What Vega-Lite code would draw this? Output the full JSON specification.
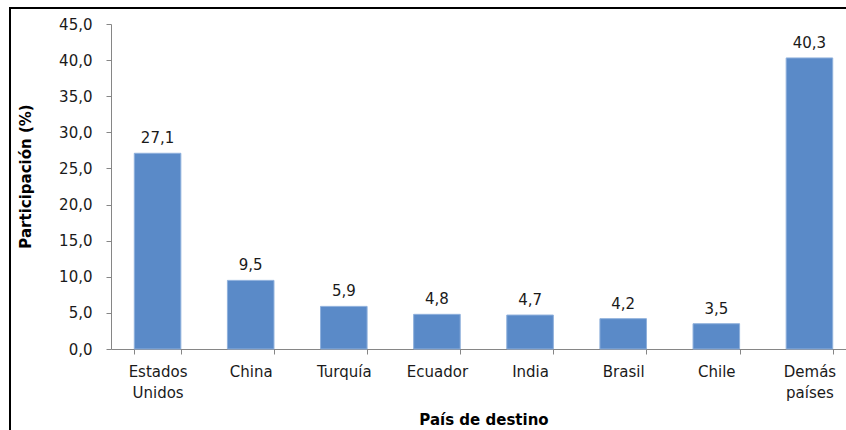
{
  "$schema": "https://vega.github.io/schema/vega-lite/v6.json",
  "width": 840,
  "height": 432,
  "padding": {"left": 10, "top": 8, "right": -4, "bottom": -10},
  "autosize": {"type": "none"},
  "background": "white",
  "config": {
    "locale": {"number": {"decimal": ",", "thousands": ".", "grouping": [3], "currency": ["", " €"]}},
    "view": {"stroke": "black", "strokeWidth": 2},
    "font": "DejaVu Sans"
  },
  "data": {
    "values": [
      {"pais": "Estados Unidos", "valor": 27.1},
      {"pais": "China", "valor": 9.5},
      {"pais": "Turquía", "valor": 5.9},
      {"pais": "Ecuador", "valor": 4.8},
      {"pais": "India", "valor": 4.7},
      {"pais": "Brasil", "valor": 4.2},
      {"pais": "Chile", "valor": 3.5},
      {"pais": "Demás países", "valor": 40.3}
    ]
  },
  "encoding": {
    "x": {
      "field": "pais",
      "type": "nominal",
      "sort": null,
      "scale": {"range": [101, 846], "paddingInner": 0.5, "paddingOuter": 0.25},
      "axis": {
        "title": "País de destino",
        "titleFontWeight": "bold",
        "titleFontSize": 15,
        "titleColor": "black",
        "titleY": 75,
        "titleBaseline": "alphabetic",
        "offset": -91,
        "labelAngle": 0,
        "labelFontSize": 15,
        "labelColor": "#1a1a1a",
        "labelPadding": 10,
        "labelLineHeight": 21,
        "labelExpr": "split(datum.label, ' ')",
        "tickSize": 5,
        "tickColor": "#868686",
        "domainColor": "#868686",
        "tickBand": "extent",
        "grid": false
      }
    },
    "y": {
      "field": "valor",
      "type": "quantitative",
      "scale": {"domain": [0, 45], "range": [341, 16], "nice": false, "zero": true},
      "axis": {
        "title": "Participación (%)",
        "titleFontWeight": "bold",
        "titleFontSize": 15,
        "titleColor": "black",
        "titleX": -86,
        "titleY": 168,
        "titleBaseline": "middle",
        "offset": -101,
        "values": [0, 5, 10, 15, 20, 25, 30, 35, 40, 45],
        "format": ".1f",
        "labelFontSize": 15,
        "labelColor": "#1a1a1a",
        "labelPadding": 14,
        "tickSize": 5,
        "tickColor": "#868686",
        "domainColor": "#868686",
        "grid": false
      }
    }
  },
  "layer": [
    {"mark": {"type": "bar", "color": "#5A8AC8", "stroke": "#8FB0DC", "strokeWidth": 1}},
    {
      "mark": {"type": "text", "dy": -10, "baseline": "alphabetic", "fontSize": 15, "color": "#1a1a1a"},
      "encoding": {"text": {"field": "valor", "type": "quantitative", "format": ".1f"}}
    }
  ]
}
